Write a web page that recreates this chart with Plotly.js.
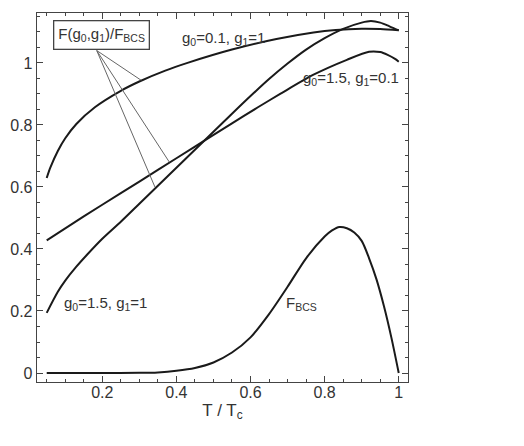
<!DOCTYPE html>
<html><head><meta charset="utf-8">
<script src="https://cdn.plot.ly/plotly-3.0.1.min.js"></script>
<style>html,body{margin:0;padding:0;background:#fff;}</style>
</head><body>
<div id="chart" style="width:524px;height:446px;"></div>
<script>
// g0=0.1, g1=1
const A_T = [0.05,0.06,0.08,0.1,0.13,0.18,0.25,0.3,0.37,0.43,0.55,0.67,0.77,0.83,0.9,0.95,1.0];
const A_F = [0.629,0.663,0.716,0.757,0.803,0.857,0.910,0.940,0.975,1.0,1.043,1.077,1.098,1.106,1.110,1.109,1.105];
// g0=1.5, g1=0.1
const B_T = [0.05,0.15,0.25,0.35,0.45,0.55,0.62,0.68,0.77,0.86,0.92,0.95,0.97,0.99,1.0];
const B_F = [0.428,0.505,0.58,0.655,0.73,0.805,0.857,0.9,0.962,1.01,1.036,1.035,1.026,1.013,1.004];
// g0=1.5, g1=1
const C_T = [0.05,0.08,0.1,0.13,0.16,0.2,0.25,0.3,0.35,0.4,0.45,0.5,0.55,0.6,0.65,0.7,0.75,0.8,0.85,0.9,0.925,0.95,0.975,1.0];
const C_F = [0.194,0.262,0.298,0.343,0.383,0.433,0.488,0.546,0.604,0.662,0.72,0.778,0.836,0.893,0.948,0.998,1.043,1.08,1.11,1.13,1.135,1.13,1.118,1.105];
// F_BCS
const BCS_T = [0.05,0.1,0.2,0.3,0.35,0.4,0.45,0.5,0.55,0.6,0.65,0.7,0.75,0.8,0.82,0.84,0.86,0.88,0.9,0.92,0.94,0.96,0.98,1.0];
const BCS_F = [0,0,0,0.0005,0.002,0.007,0.016,0.034,0.066,0.115,0.19,0.278,0.37,0.44,0.46,0.471,0.467,0.453,0.426,0.37,0.302,0.216,0.115,0];

const xTicks = [0.2,0.4,0.6,0.8,1];
const xTickText = ['0.2','0.4','0.6','0.8','1'];
const yTicks = [0,0.2,0.4,0.6,0.8,1];
const yTickText = ['0','0.2','0.4','0.6','0.8','1'];

const lineStyle = {color:'#1a1a1a', width:2, shape:'spline', smoothing:0.8};
const traces = [
  {x:A_T, y:A_F, mode:'lines', line:lineStyle, hoverinfo:'skip'},
  {x:B_T, y:B_F, mode:'lines', line:lineStyle, hoverinfo:'skip'},
  {x:C_T, y:C_F, mode:'lines', line:lineStyle, hoverinfo:'skip'},
  {x:BCS_T, y:BCS_F, mode:'lines', line:lineStyle, hoverinfo:'skip'}
];

const fam = '"Liberation Sans", Arial, sans-serif';
const font = {family:fam, size:15, color:'#333'};
const tickFont = {family:fam, size:16, color:'#333'};
const axisCommon = {
  showgrid:false, zeroline:false, showline:true, linecolor:'#444', linewidth:1.3,
  mirror:'ticks', ticks:'inside', ticklen:6, tickwidth:1, tickcolor:'#444',
  tickfont:tickFont
};
const ptr = [0.185, 1.04];
const layout = {
  width:524, height:446,
  margin:{l:37, r:116, t:13, b:64},
  paper_bgcolor:'#fff', plot_bgcolor:'#fff',
  showlegend:false,
  font:font,
  xaxis:Object.assign({}, axisCommon, {
    range:[0.0238,1.025], tickmode:'array', tickvals:xTicks, ticktext:xTickText,
    ticklabelstandoff:-5,
    minor:{ticks:'inside', ticklen:3, dtick:0.05, tick0:0, tickcolor:'#444'},
    title:{text:'T / T<sub>c</sub>', font:{family:fam, size:17, color:'#333'}, standoff:2}
  }),
  yaxis:Object.assign({}, axisCommon, {
    range:[-0.029,1.161], tickmode:'array', tickvals:yTicks, ticktext:yTickText,
    minor:{ticks:'inside', ticklen:3, dtick:0.05, tick0:0, tickcolor:'#444'}
  }),
  shapes:[
    {type:'line', xref:'x', yref:'y', x0:ptr[0], y0:ptr[1], x1:0.305, y1:0.944, line:{color:'#666', width:1}},
    {type:'line', xref:'x', yref:'y', x0:ptr[0], y0:ptr[1], x1:0.381, y1:0.68, line:{color:'#666', width:1}},
    {type:'line', xref:'x', yref:'y', x0:ptr[0], y0:ptr[1], x1:0.342, y1:0.6, line:{color:'#666', width:1}}
  ],
  annotations:[
    {xref:'x', yref:'y', x:0.197, y:1.09, text:'F(g<sub>0</sub>,g<sub>1</sub>)/F<sub>BCS</sub>',
     showarrow:false, bordercolor:'#444', borderwidth:1.3, borderpad:4, bgcolor:'#fff', font:font},
    {xref:'x', yref:'y', x:0.41, y:1.08, xanchor:'left', text:'g<sub>0</sub>=0.1, g<sub>1</sub>=1', showarrow:false, font:font},
    {xref:'x', yref:'y', x:1.005, y:0.95, xanchor:'right', text:'g<sub>0</sub>=1.5, g<sub>1</sub>=0.1', showarrow:false, font:font},
    {xref:'x', yref:'y', x:0.09, y:0.225, xanchor:'left', text:'g<sub>0</sub>=1.5, g<sub>1</sub>=1', showarrow:false, font:font},
    {xref:'x', yref:'y', x:0.69, y:0.225, xanchor:'left', text:'F<sub>BCS</sub>', showarrow:false, font:font}
  ]
};
Plotly.newPlot('chart', traces, layout, {displayModeBar:false, staticPlot:true});
</script>
</body></html>
